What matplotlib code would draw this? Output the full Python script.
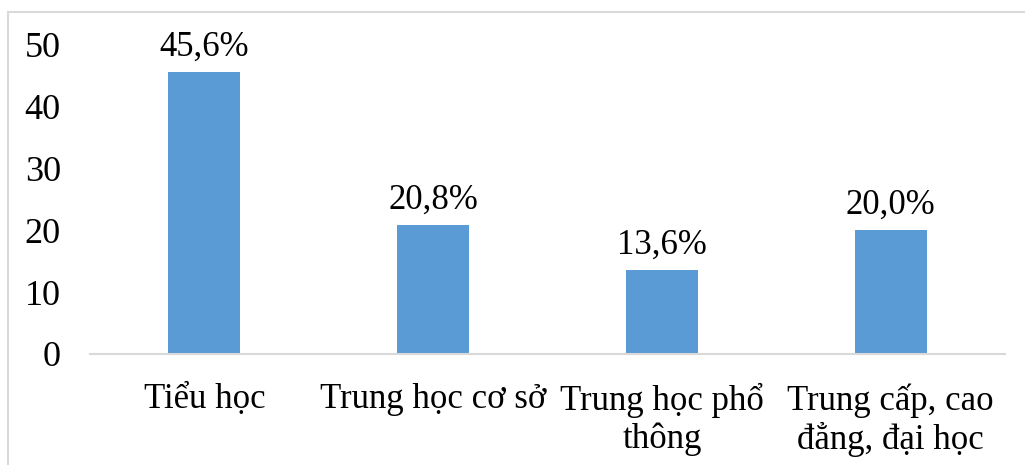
import matplotlib.pyplot as plt
from matplotlib.patches import Rectangle

categories = ['Tiểu học', 'Trung học cơ sở', 'Trung học phổ\nthông', 'Trung cấp, cao\nđẳng, đại học']
values = [45.6, 20.8, 13.6, 20.0]
labels = ['45,6%', '20,8%', '13,6%', '20,0%']
y_ticks = [0, 10, 20, 30, 40, 50]

plt.rcParams['font.family'] = ['Liberation Serif', 'DejaVu Serif']

fig = plt.figure(figsize=(10.25, 4.65), dpi=100)
ax = fig.add_axes([90 / 1025, 1 - 354 / 465, 915 / 1025, 309 / 465])

x = range(len(categories))
bars = ax.bar(x, values, width=0.315, color='#5B9BD5')

# value labels above each bar
for b, lab in zip(bars, labels):
    ax.annotate(lab, (b.get_x() + b.get_width() / 2, b.get_height()),
                xytext=(0, 6), textcoords='offset points',
                ha='center', va='bottom', fontsize=25)

ax.set_xlim(-0.5, 3.5)
ax.set_ylim(0, 50)
ax.set_yticks(y_ticks)
ax.set_xticks(list(x))
ax.set_xticklabels(categories, fontsize=25, linespacing=1.17)
ax.tick_params(axis='y', length=0, pad=21, labelsize=26)
ax.tick_params(axis='x', length=0, pad=21)

for side in ['top', 'right', 'left']:
    ax.spines[side].set_visible(False)
ax.spines['bottom'].set_color('#d9d9d9')
ax.spines['bottom'].set_linewidth(1.5)

# outer chart frame (only top and left edges visible in the crop)
fig.patches.append(Rectangle((8 / 1025, -0.1), 1.2, 1.1 - 12 / 465,
                             transform=fig.transFigure, fill=False,
                             edgecolor='#d9d9d9', linewidth=1.5))

fig.savefig('out.png', dpi=100)
